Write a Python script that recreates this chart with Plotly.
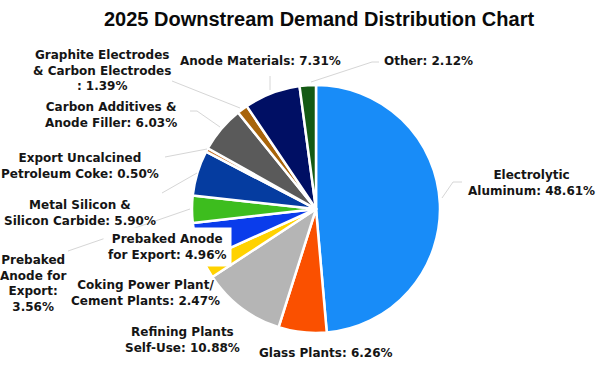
import plotly.graph_objects as go

categories = [
    "Electrolytic Aluminum", "Glass Plants", "Refining Plants Self-Use",
    "Coking Power Plant/Cement Plants", "Prebaked Anode for Export (4.96)",
    "Prebaked Anode for Export (3.56)", "Metal Silicon & Silicon Carbide",
    "Export Uncalcined Petroleum Coke", "Carbon Additives & Anode Filler",
    "Graphite Electrodes & Carbon Electrodes", "Anode Materials", "Other",
]
values = [48.61, 6.26, 10.88, 2.47, 4.96, 3.56, 5.90, 0.50, 6.03, 1.39, 7.31, 2.12]
label_texts = [
    "Electrolytic<br>Aluminum: 48.61%",
    "Glass Plants: 6.26%",
    "Refining Plants<br>Self-Use: 10.88%",
    "Coking Power Plant/<br>Cement Plants: 2.47%",
    "Prebaked Anode<br>for Export: 4.96%",
    "Prebaked<br>Anode for<br>Export:<br>3.56%",
    "Metal Silicon &<br>Silicon Carbide: 5.90%",
    "Export Uncalcined<br>Petroleum Coke: 0.50%",
    "Carbon Additives &<br>Anode Filler: 6.03%",
    "Graphite Electrodes<br>& Carbon Electrodes<br>: 1.39%",
    "Anode Materials: 7.31%",
    "Other: 2.12%",
]
colors = ["#188CF8", "#FA5000", "#B5B5B5", "#FFD200", "#0A3CEB", "#3DBD1E",
          "#053CA0", "#C87832", "#5A5A5A", "#A8640A", "#000F64", "#145A14"]

W, H = 600, 367
# label centre positions in pixels (x, y)
label_pos = [(531, 183), (326, 352.5), (182, 340), (145, 293), (167, 247),
             (33, 283.5), (80, 213), (80, 166), (110.5, 115.5), (102, 70),
             (260.5, 61), (428.5, 61.5)]

fig = go.Figure(go.Pie(
    labels=categories, values=values, sort=False, direction="clockwise",
    rotation=0, textinfo="none", hoverinfo="label+percent",
    marker=dict(colors=colors, line=dict(color="white", width=2.5)),
    domain=dict(x=[192 / W, 440 / W], y=[1 - 333 / H, 1 - 85 / H]),
    showlegend=False,
))

def px(x):
    return x / W

def py(y):
    return 1 - y / H

# faint leader lines
leaders = [
    [(462, 182), (453, 182), (442, 198)],
    [(379, 62), (372, 62), (311, 82)],
    [(270, 76), (270, 90)],
    [(172, 81), (240, 108)],
    [(190, 111), (197, 111), (220, 127)],
    [(165, 157), (207, 149)],
    [(162, 193), (197, 173)],
    [(68, 251), (190, 209)],
]
shapes = []
for pts in leaders:
    for (x0, y0), (x1, y1) in zip(pts[:-1], pts[1:]):
        shapes.append(dict(type="line", xref="paper", yref="paper",
                           x0=px(x0), y0=py(y0), x1=px(x1), y1=py(y1),
                           line=dict(color="#d6d6d6", width=1), layer="above"))

annotations = [dict(
    text="2025 Downstream Demand Distribution Chart", xref="paper", yref="paper",
    x=px(319), y=py(18.5), xanchor="center", yanchor="middle", showarrow=False,
    font=dict(family="Liberation Sans", size=20, color="#0a0a0a", weight=700),
)]
for i, (t, (x, y)) in enumerate(zip(label_texts, label_pos)):
    a = dict(text=t, xref="paper", yref="paper", x=px(x), y=py(y),
             xanchor="center", yanchor="middle", align="center", showarrow=False,
             font=dict(family="DejaVu Sans", size=12, color="#151515", weight=700))
    if i == 4:
        a.update(bgcolor="white", borderpad=4)
    annotations.append(a)

fig.update_layout(
    width=W, height=H, margin=dict(l=0, r=0, t=0, b=0),
    paper_bgcolor="white", plot_bgcolor="white",
    shapes=shapes, annotations=annotations,
)
fig.write_html("out.html", config={"displayModeBar": False},
               post_script="document.body.style.margin='0px';document.body.style.overflow='hidden';")
